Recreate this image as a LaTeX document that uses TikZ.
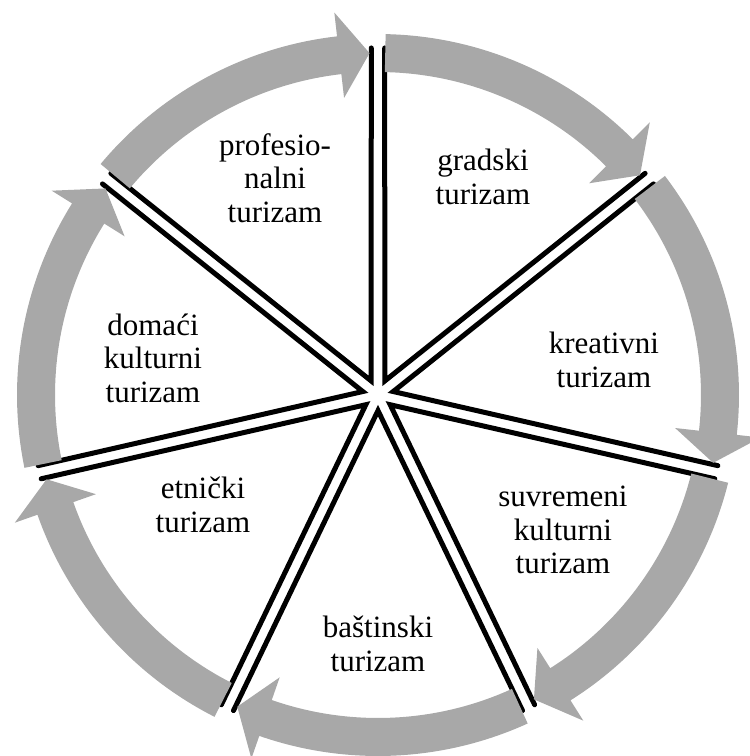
\documentclass[tikz,border=0pt]{standalone}
\usepackage{fontspec}
\setmainfont{Liberation Serif}
\definecolor{cyclegray}{RGB}{168,168,168}

\begin{document}
\begin{tikzpicture}[
    x=1pt, y=1pt,
    segtext/.style={align=center, font=\fontsize{31}{33.5}\selectfont, inner sep=0pt},
    spoke/.style={line width=5pt, line join=miter, line cap=round},
    arrowband/.style={fill=cyclegray, draw=none}
]
\useasboundingbox (-378,-361) rectangle (372,395);
% slice edges
\foreach \k in {0,...,6}
  \draw[spoke, rotate={64.2857-\k*51.4286}] (315.6pt,144.5pt) -- (15.6pt,0pt) -- (315.6pt,-144.5pt);
% gray cycle arrows
\foreach \k in {0,...,6}
  \fill[arrowband, rotate={64.2857-\k*51.4286}]
    (24.5:361pt) arc[start angle=24.5, end angle=-19.2, radius=361pt]
    -- (-19.2:385pt) -- (-24.3:342pt) -- (-19.2:299pt) -- (-19.2:323pt)
    arc[start angle=-19.2, end angle=24.5, radius=323pt] -- cycle;
% labels
\node[segtext] (profesionalni) at (-103,217) {profesio-\\nalni\\turizam};
\node[segtext] (gradski) at (105,218) {gradski\\turizam};
\node[segtext] (kreativni) at (226,35) {kreativni\\turizam};
\node[segtext] (suvremeni) at (185,-135) {suvremeni\\kulturni\\turizam};
\node[segtext] (bastinski) at (0,-249) {baštinski\\turizam};
\node[segtext] (etnicki) at (-175,-110) {etnički\\turizam};
\node[segtext] (domaci) at (-225,37) {domaći\\kulturni\\turizam};
\end{tikzpicture}
\end{document}
